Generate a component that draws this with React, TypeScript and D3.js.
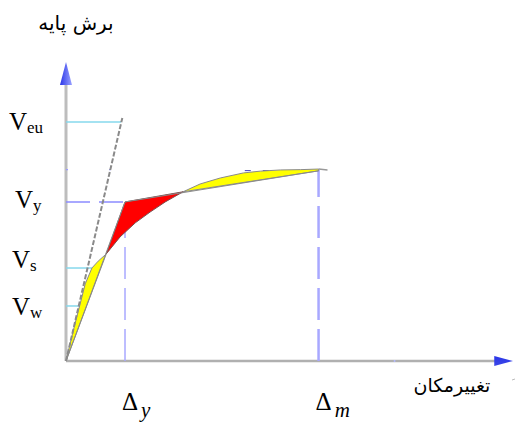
import React from "react";
import * as d3 from "d3";

// capacity curve (displacement %, base shear %), split at the two crossings with the bilinear idealisation
const curveLower: [number, number][] = [
  [0, 0], [0.9, 5.7], [2.0, 12.4], [3.1, 18.7], [4.3, 25.8], [5.8, 31.1], [7.2, 33.4], [9.0, 35.8],
];
const curveMid: [number, number][] = [
  [9.0, 35.8], [12.1, 41.5], [15.5, 46.2], [18.8, 49.8], [22.2, 53.2], [26.2, 56.6],
];
const curveUpper: [number, number][] = [
  [26.2, 56.6], [30.0, 59.2], [34.5, 61.2], [39.7, 62.9], [43.5, 63.5], [48.0, 63.9], [52.5, 64.0], [56.5, 64.2],
];
const curveTail: [number, number][] = [[56.5, 64.2], [58.5, 63.9]];

// bilinear idealisation: origin, yield point, ultimate point
const bilinear: [number, number][] = [[0, 0], [13.2, 53.2], [56.5, 63.6]];
// initial stiffness line
const stiffness: [number, number][] = [[0, 0], [12.6, 81.3]];

// shear levels and where their guide lines stop
const levelNames = ["eu", "y", "s", "w"];
const levelValues = [79.9, 53.2, 31.1, 18.4];
const levelEnds = [12.3, 13.2, 5.8, 3.1];
const vmLevel = 64;

const deltaNames = ["y", "m"];
const deltaValues = [13.2, 56.5];

const yTitle = "برش پایه";
const xTitle = "تغییرمکان";

const W = 518;
const H = 423;

export default function App() {
  const x = d3.scaleLinear().domain([0, 100]).range([66, 513]);
  const y = d3.scaleLinear().domain([0, 100]).range([361, 62]);
  const line = d3.line<[number, number]>().x((d) => x(d[0])).y((d) => y(d[1]));
  const poly = (pts: [number, number][]) => line(pts) + "Z";

  const x0 = x(0);
  const y0 = y(0);

  const lowerRegion = [...curveLower];
  const redRegion: [number, number][] = [curveMid[0], bilinear[1], ...[...curveMid].reverse().slice(0, -1)];
  const upperRegion: [number, number][] = [...curveUpper, bilinear[2]];

  const labelNudge = [8, 6, 0, 9];
  const serif = "'Liberation Serif', 'Times New Roman', serif";
  const arabic = "'DejaVu Sans', sans-serif";

  return (
    <svg
      width={W}
      height={H}
      style={{ position: "absolute", left: 0, top: 0, background: "#fff" }}
    >
      <defs>
        <linearGradient id="arrY" x1="0" y1="0" x2="1" y2="0">
          <stop offset="0" stopColor="#2a36e8" />
          <stop offset="1" stopColor="#9aa2ff" />
        </linearGradient>
        <linearGradient id="arrX" x1="0" y1="0" x2="0" y2="1">
          <stop offset="0" stopColor="#2a36e8" />
          <stop offset="1" stopColor="#3b46e6" />
        </linearGradient>
      </defs>

      {/* axes */}
      <line x1={x0} y1={y0} x2={x0} y2={y(92.5)} stroke="#bdbdbd" strokeWidth={3} />
      <line x1={x0} y1={y0} x2={x(96)} y2={y0} stroke="#b0b0b0" strokeWidth={2.5} />
      <path d={`M${x0},${y(100)}L${x0 - 6},${y(92.3)}L${x0 + 6},${y(92.3)}Z`} fill="url(#arrY)" />
      <path d={`M${x(100)},${y0}L${x(95.8)},${y0 - 5}L${x(95.8)},${y0 + 5}Z`} fill="url(#arrX)" />
      <circle cx={x(73.5)} cy={y0} r={1} fill="#b4baff" />

      {/* guide lines */}
      {levelNames.map((n, i) =>
        n === "y" ? (
          <line key={n} x1={x0} y1={y(levelValues[i])} x2={x(levelEnds[i])} y2={y(levelValues[i])}
            stroke="#8c8cff" strokeWidth={1.5} strokeDasharray="24 9" />
        ) : (
          <line key={n} x1={x0} y1={y(levelValues[i])} x2={x(levelEnds[i])} y2={y(levelValues[i])}
            stroke="#86d8ec" strokeWidth={1.5} />
        )
      )}
      <line x1={x0} y1={y(vmLevel)} x2={x(deltaValues[0]) - 13} y2={y(vmLevel)}
        stroke="#9a9aff" strokeWidth={1.2} strokeDasharray="2 41" />
      <line x1={x(40)} y1={y(vmLevel) + 1} x2={x(deltaValues[1])} y2={y(vmLevel) + 1}
        stroke="#3c3cc8" strokeWidth={1} strokeDasharray="6 12" />
      {deltaValues.map((d, i) => (
        <line key={i} x1={x(d)} y1={y0} x2={x(d)} y2={y(i === 0 ? levelValues[1] : vmLevel)}
          stroke="#a8a8ff" strokeWidth={i === 0 ? 1.5 : 2.5} strokeDasharray="32 9" />
      ))}

      {/* filled areas between curve and bilinear */}
      <path d={poly(lowerRegion)} fill="#ffff00" stroke="#8a8a8a" strokeWidth={1} />
      <path d={poly(redRegion)} fill="#ff0000" stroke="#7a5050" strokeWidth={1} />
      <path d={poly(upperRegion)} fill="#ffff00" stroke="#8a8a8a" strokeWidth={1} />
      <path d={line(curveTail) ?? ""} fill="none" stroke="#999" strokeWidth={1.5} />
      <path d={line(bilinear) ?? ""} fill="none" stroke="#8a8a8a" strokeWidth={1} />
      <path d={line(stiffness) ?? ""} fill="none" stroke="#8a8a8a" strokeWidth={2} strokeDasharray="5 2" />

      {/* labels */}
      {levelNames.map((n, i) => (
        <text key={n} x={n === "eu" ? 9 : n === "y" ? 15 : 12} y={y(levelValues[i]) + labelNudge[i]}
          fontFamily={serif} fontSize={25} fill="#000">
          V<tspan fontSize={17} dy={3}>{n}</tspan>
        </text>
      ))}
      {deltaNames.map((n, i) => (
        <text key={n} x={x(deltaValues[i]) - 3} y={410} fontFamily={serif} fontSize={25} fill="#000">
          Δ<tspan fontSize={21} fontStyle="italic" dx={3} dy={7}>{n}</tspan>
        </text>
      ))}
      <text x={76} y={30} textAnchor="middle" fontFamily={arabic} fontSize={20} fill="#000" direction="rtl">
        {yTitle}
      </text>
      <text x={452} y={392} textAnchor="middle" fontFamily={arabic} fontSize={19} fill="#000" direction="rtl">
        {xTitle}
      </text>
      <line x1={512} y1={380} x2={515} y2={379} stroke="#bbb" strokeWidth={1} />
    </svg>
  );
}
